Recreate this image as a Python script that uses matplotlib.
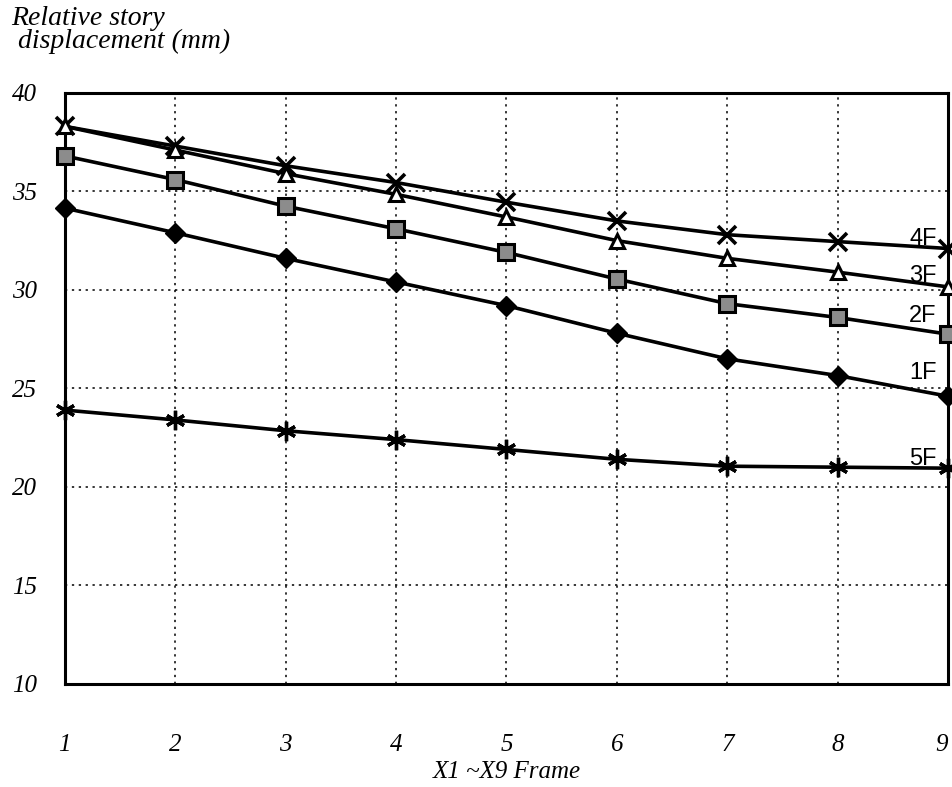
import matplotlib
matplotlib.use("Agg")
import matplotlib.pyplot as plt

frames = [1, 2, 3, 4, 5, 6, 7, 8, 9]
f4 = [38.3, 37.3, 36.3, 35.45, 34.45, 33.5, 32.8, 32.45, 32.1]
f3 = [38.3, 37.1, 35.9, 34.85, 33.7, 32.5, 31.6, 30.9, 30.15]
f2 = [36.8, 35.6, 34.25, 33.1, 31.9, 30.55, 29.3, 28.6, 27.75]
f1 = [34.15, 32.9, 31.6, 30.4, 29.2, 27.8, 26.5, 25.65, 24.6]
f5 = [23.9, 23.4, 22.85, 22.4, 21.9, 21.4, 21.05, 21.0, 20.95]
y_ticks = [10, 15, 20, 25, 30, 35, 40]
series_labels = ["4F", "3F", "2F", "1F", "5F"]

fig = plt.figure(figsize=(9.52, 7.87), dpi=100)
ax = fig.add_axes([0.068, 0.131, 0.928, 0.751])

common = dict(color="black", linewidth=2.6, clip_on=False, zorder=3)
ax.plot(frames, f4, marker="x", markersize=13, markeredgewidth=2.6, **common)
ax.plot(frames, f3, marker="^", markersize=10, markerfacecolor="white",
        markeredgecolor="black", markeredgewidth=2.2, **common)
ax.plot(frames, f2, marker="s", markersize=11, markerfacecolor="0.55",
        markeredgecolor="black", markeredgewidth=2.2, **common)
ax.plot(frames, f1, marker="D", markersize=10, markerfacecolor="black", **common)
ax.plot(frames, f5, marker=(6, 2, 0), markersize=14, markeredgewidth=2.4, **common)

ax.set_xlim(1, 9)
ax.set_ylim(10, 40)
ax.set_xticks(frames)
ax.set_yticks(y_ticks)
ax.grid(True, color="black", linestyle=(0, (1.5, 3)), linewidth=1.1)
for s in ax.spines.values():
    s.set_linewidth(2.2)
ax.tick_params(length=0)

serif = ["Liberation Serif", "DejaVu Serif"]
xl = ax.set_xticklabels([str(v) for v in frames], fontsize=18, style="italic", family=serif)
xl[-1].set_horizontalalignment("right")
ax.set_yticklabels([str(v) for v in y_ticks], fontsize=18, style="italic", family=serif)
ax.tick_params(axis="x", pad=36)
ax.tick_params(axis="y", pad=20)

ax.set_xlabel("X1 ~X9 Frame", fontsize=18, style="italic", family=serif, labelpad=4)
fig.text(0.012, 0.992, "Relative story\n displacement (mm)", fontsize=20,
         style="italic", family=serif, ha="left", va="top", linespacing=0.85)

label_pos_y = [32.0, 30.15, 28.1, 25.2, 20.85]
for lab, yy in zip(series_labels, label_pos_y):
    ax.text(8.77, yy, lab, fontsize=17, family=["Liberation Sans", "DejaVu Sans"],
            ha="center", va="bottom", zorder=4)

fig.savefig("out.png", dpi=100)
